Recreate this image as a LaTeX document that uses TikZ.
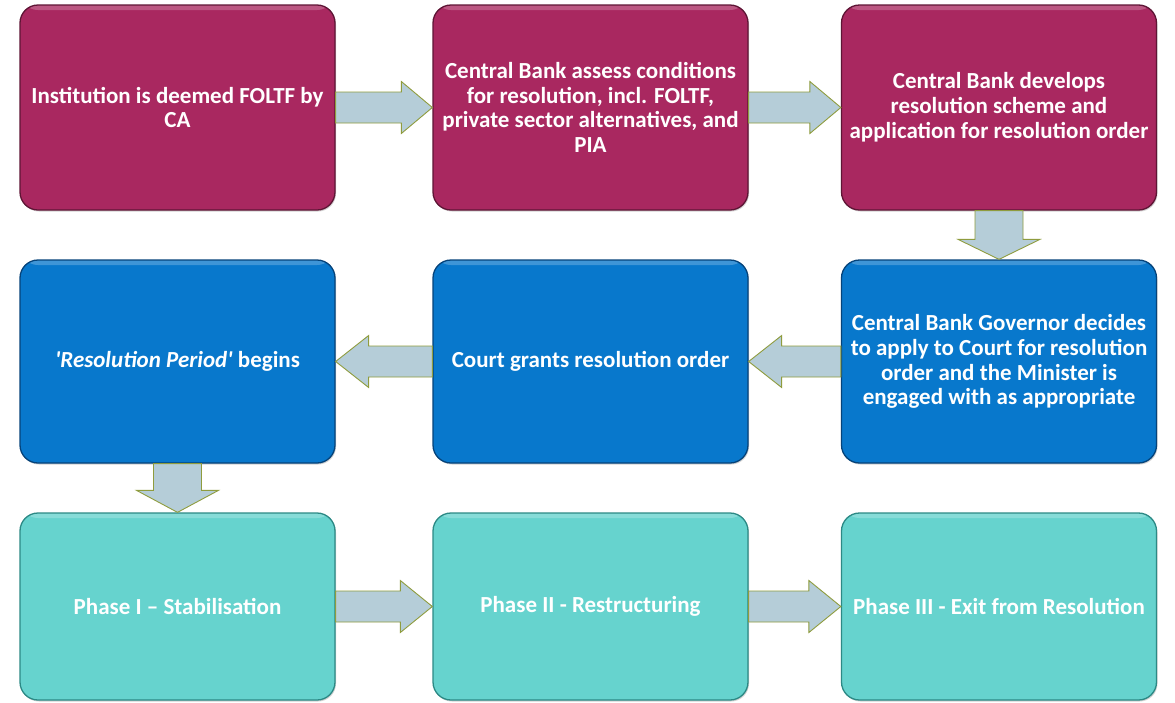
\documentclass[tikz,border=0pt]{standalone}
\usepackage{fontspec}
\setmainfont{Carlito}
\usetikzlibrary{calc,shadows}
\definecolor{magbox}{HTML}{A92860}
\definecolor{magdark}{HTML}{5E1535}
\definecolor{bluebox}{HTML}{0878CC}
\definecolor{bluedark}{HTML}{05437A}
\definecolor{tealbox}{HTML}{66D3CE}
\definecolor{tealdark}{HTML}{2C8985}
\definecolor{arrfill}{HTML}{B5CDD8}
\definecolor{arrline}{HTML}{8F9C3E}
\newcommand\myblockarrow[5]{%
  \path[barrow]
    ($(#1)!#3!90:(#2)$) --
    ($($(#2)!#5!(#1)$)!#3!-90:(#1)$) --
    ($($(#2)!#5!(#1)$)!#4!-90:(#1)$) --
    (#2) --
    ($($(#2)!#5!(#1)$)!#4!90:(#1)$) --
    ($($(#2)!#5!(#1)$)!#3!90:(#1)$) --
    ($(#1)!#3!-90:(#2)$) -- cycle;}
\begin{document}
\begin{tikzpicture}[x=1pt,y=-1pt,
  box/.style={rectangle, rounded corners=18pt, minimum width=315pt,
    text=white, font=\bfseries\fontsize{23}{24.8}\selectfont, align=center,
    line width=1.3pt, inner sep=0pt,
    drop shadow={shadow xshift=1pt, shadow yshift=-1.5pt, opacity=0.35},
    path picture={\fill[white,opacity=0.22] (path picture bounding box.north west)
      rectangle ([yshift=-5pt]path picture bounding box.north east);}},
  magstyle/.style={box, fill=magbox, draw=magdark, minimum height=205pt},
  bluestyle/.style={box, fill=bluebox, draw=bluedark, minimum height=203pt},
  tealstyle/.style={box, fill=tealbox, draw=tealdark, minimum height=187pt},
  barrow/.style={fill=arrfill, draw=arrline, line width=0.9pt, line join=miter}]
\fill[white] (0,0) rectangle (1175,702);
\useasboundingbox (0,0) rectangle (1175,702);

\node[magstyle] (a1) at (177.5,107.5) {Institution is deemed FOLTF by\\CA};
\node[magstyle] (a2) at (590.5,107.5) {Central Bank assess conditions\\for resolution, incl. FOLTF,\\private sector alternatives, and\\PIA};
\node[magstyle] (a3) at (999,107.5) {Central Bank develops\\resolution scheme and\\application for resolution order};

\node[bluestyle] (b1) at (177.5,361.5) {\textit{\textquotesingle Resolution Period\textquotesingle} begins};
\node[bluestyle] (b2) at (590.5,361.5) {Court grants resolution order};
\node[bluestyle] (b3) at (999,361.5) {Central Bank Governor decides\\to apply to Court for resolution\\order and the Minister is\\engaged with as appropriate};

\node[tealstyle] (c1) at (177.5,606.5) {Phase I – Stabilisation};
\node[tealstyle] (c2) at (590.5,606.5) {Phase II - Restructuring};
\node[tealstyle] (c3) at (999,606.5) {Phase III - Exit from Resolution};

\myblockarrow{a1.east}{a2.west}{15.5pt}{26pt}{31pt}
\myblockarrow{a2.east}{a3.west}{15.5pt}{26pt}{31pt}
\myblockarrow{a3.south}{b3.north}{24pt}{41pt}{20pt}
\myblockarrow{b3.west}{b2.east}{15.5pt}{26pt}{33pt}
\myblockarrow{b2.west}{b1.east}{15.5pt}{26pt}{33pt}
\myblockarrow{b1.south}{c1.north}{24pt}{41pt}{22pt}
\myblockarrow{c1.east}{c2.west}{15.5pt}{26pt}{32pt}
\myblockarrow{c2.east}{c3.west}{15.5pt}{26pt}{32pt}
\end{tikzpicture}
\end{document}
